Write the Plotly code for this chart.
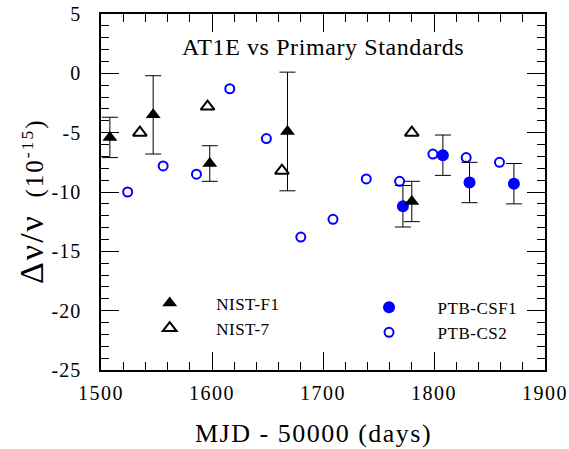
import plotly.graph_objects as go

# NIST-F1 (filled triangles, with error bars)
nistf1_x = [1508, 1547, 1598, 1668, 1780]
nistf1_y = [-5.4, -3.5, -7.6, -4.9, -10.8]
nistf1_err = [1.7, 3.3, 1.5, 5.0, 1.7]

# NIST-7 (open triangles)
nist7_x = [1535, 1596, 1663, 1780]
nist7_y = [-5.0, -2.8, -8.2, -5.0]

# PTB-CSF1 (filled circles, with error bars)
csf1_x = [1772, 1808, 1832, 1872]
csf1_y = [-11.2, -6.9, -9.2, -9.3]
csf1_err = [1.75, 1.7, 1.7, 1.7]

# PTB-CS2 (open circles)
cs2_x = [1524, 1556, 1586, 1616, 1649, 1680, 1709, 1739, 1769, 1799, 1829, 1859]
cs2_y = [-10.0, -7.8, -8.5, -1.3, -5.5, -13.8, -12.3, -8.9, -9.1, -6.8, -7.1, -7.5]

x_ticks = [1500, 1600, 1700, 1800, 1900]
y_ticks = [5, 0, -5, -10, -15, -20, -25]

FONT = "Liberation Serif, Times New Roman, serif"
BLUE = "#0000ff"


def spaced(text, px):
    return f"<span style='letter-spacing:{px}px'>{text}</span>"


fig = go.Figure()

fig.add_trace(go.Scatter(
    x=cs2_x, y=cs2_y, mode="markers", name=spaced("PTB-CS2", 0.5), legend="legend2",
    marker=dict(symbol="circle-open", size=9, color=BLUE, line=dict(width=2, color=BLUE)),
))
fig.add_trace(go.Scatter(
    x=csf1_x, y=csf1_y, mode="markers", name=spaced("PTB-CSF1", 0.5), legend="legend2",
    marker=dict(symbol="circle", size=12, color=BLUE),
    error_y=dict(type="data", array=csf1_err, color="black", thickness=1, width=8),
))
fig.add_trace(go.Scatter(
    x=nist7_x, y=nist7_y, mode="markers", name=spaced("NIST-7", 0.5), legend="legend",
    marker=dict(symbol="triangle-up-open", size=12, color="black", line=dict(width=2, color="black")),
))
fig.add_trace(go.Scatter(
    x=nistf1_x, y=nistf1_y, mode="markers", name=spaced("NIST-F1", 0.5), legend="legend",
    marker=dict(symbol="triangle-up", size=13, color="black"),
    error_y=dict(type="data", array=nistf1_err, color="black", thickness=1, width=8),
))

axis_common = dict(
    showline=True, linecolor="black", linewidth=1.5, mirror="allticks",
    ticks="inside", ticklen=18, tickwidth=1, tickcolor="black",
    showgrid=False, zeroline=False, automargin=False,
    tickfont=dict(family=FONT, size=20, color="black"),
)

fig.update_xaxes(
    range=[1500, 1900], tickvals=x_ticks, ticktext=[spaced(v, 1.5) for v in x_ticks],
    minor=dict(dtick=20, tick0=1500, ticks="inside", ticklen=8, tickcolor="black", tickwidth=1),
    ticklabelstandoff=4,
    **axis_common,
)
fig.update_yaxes(
    range=[-25, 5], tickvals=y_ticks, ticktext=[spaced(v, 1) for v in y_ticks],
    minor=dict(dtick=1, tick0=0, ticks="inside", ticklen=8, tickcolor="black", tickwidth=1),
    ticklabelstandoff=14,
    **axis_common,
)

fig.add_annotation(
    text=spaced("AT1E vs Primary Standards", 0.6), xref="paper", yref="paper",
    x=0.5, y=0.908, xanchor="center", yanchor="middle", showarrow=False,
    font=dict(family=FONT, size=24, color="black"),
)
fig.add_annotation(
    text=spaced("MJD - 50000 (days)", 1.5), xref="paper", yref="paper",
    x=0.479, y=-0.177, xanchor="center", yanchor="middle", showarrow=False,
    font=dict(family=FONT, size=26, color="black"),
)
fig.add_annotation(
    text="<span style='font-size:34px;letter-spacing:2px'>Δν/ν</span>"
         "<span style='letter-spacing:2px'>  (10<sup>-15</sup>)</span>",
    xref="paper", yref="paper", x=-0.155, y=0.475, xanchor="center", yanchor="middle",
    textangle=-90, showarrow=False, font=dict(family=FONT, size=25, color="black"),
)

legend_common = dict(
    font=dict(family=FONT, size=17, color="black"), bgcolor="rgba(0,0,0,0)",
    traceorder="reversed", xanchor="left", yanchor="top",
)
fig.update_layout(
    width=569, height=449,
    margin=dict(l=101, r=24, t=14, b=79, autoexpand=False),
    paper_bgcolor="white", plot_bgcolor="white",
    showlegend=True,
    legend=dict(x=0.050, y=0.2375, itemwidth=83, **legend_common),
    legend2=dict(x=0.5395, y=0.2256, itemwidth=87, **legend_common),
)

fig.write_html("out.html", config={"displayModeBar": False},
               post_script="document.body.style.margin='0';")
